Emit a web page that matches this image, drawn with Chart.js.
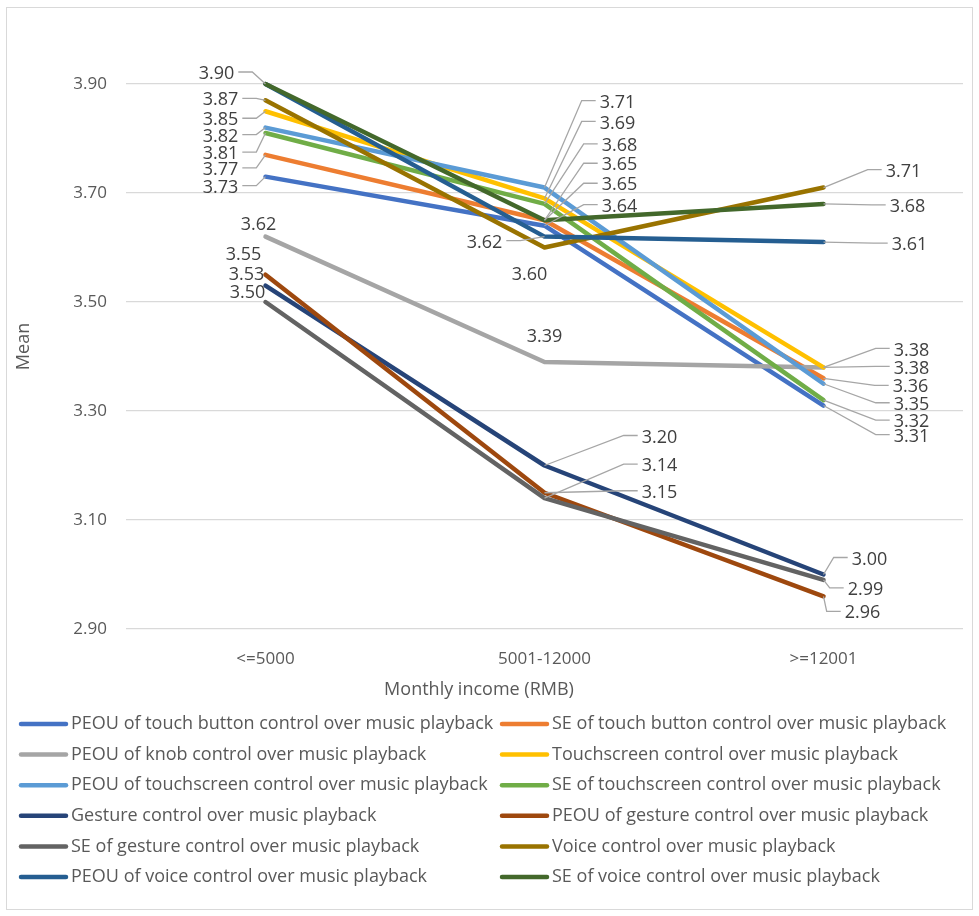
<!DOCTYPE html>
<html>
<head>
<meta charset="utf-8">
<title>Mean by monthly income</title>
<script src="https://cdn.jsdelivr.net/npm/chart.js@4.4.1/dist/chart.umd.min.js"></script>
<style>
  html, body { margin: 0; padding: 0; background: #ffffff; }
  #wrap { width: 979px; height: 916px; position: relative; }
</style>
</head>
<body>
<div id="wrap"><canvas id="chart" width="979" height="916"></canvas></div>
<script>
// Income groups on the x axis
const categories = ['<=5000', '5001-12000', '>=12001'];
// Y axis tick values
const yTicks = [2.90, 3.10, 3.30, 3.50, 3.70, 3.90];

// Series names (legend order)
const seriesNames = [
  'PEOU of touch button control over music playback',
  'SE of touch button control over music playback',
  'PEOU of knob control over music playback',
  'Touchscreen control over music playback',
  'PEOU of touchscreen control over music playback',
  'SE of touchscreen control over music playback',
  'Gesture control over music playback',
  'PEOU of gesture control over music playback',
  'SE of gesture control over music playback',
  'Voice control over music playback',
  'PEOU of voice control over music playback',
  'SE of voice control over music playback'
];

// Mean values per income group
const peouTouchButton = [3.73, 3.64, 3.31];
const seTouchButton   = [3.77, 3.65, 3.36];
const peouKnob        = [3.62, 3.39, 3.38];
const touchscreen     = [3.85, 3.69, 3.38];
const peouTouchscreen = [3.82, 3.71, 3.35];
const seTouchscreen   = [3.81, 3.68, 3.32];
const gesture         = [3.53, 3.20, 3.00];
const peouGesture     = [3.55, 3.15, 2.96];
const seGesture       = [3.50, 3.14, 2.99];
const voice           = [3.87, 3.60, 3.71];
const peouVoice       = [3.90, 3.62, 3.61];
const seVoice         = [3.90, 3.65, 3.68];

const seriesValues = [
  peouTouchButton, seTouchButton, peouKnob, touchscreen, peouTouchscreen, seTouchscreen,
  gesture, peouGesture, seGesture, voice, peouVoice, seVoice
];

const seriesColors = [
  '#4472C4', '#ED7D31', '#A5A5A5', '#FFC000', '#5B9BD5', '#70AD47',
  '#264478', '#9E480E', '#636363', '#997300', '#255E91', '#43682B'
];

// Data label placement: [dx, dy, leader] offset of the label centre from its point, in px.
// null = no label drawn for that point.
const labelPlacement = [
  [[-45, 11, true], [75, -19, true], [88, 31, true]],      // PEOU touch button
  [[-45, 15, true], [75, -35, true], [87, 9, true]],       // SE touch button
  [[-7, -12, false], [0, -25, false], [88, 1, true]],      // PEOU knob
  [[-45, 9, true], [73, -75, true], [88, -17, true]],      // Touchscreen
  [[-45, 9, true], [73, -85, true], [88, 21, true]],       // PEOU touchscreen
  [[-45, 21, true], [75, -58, true], [88, 22, true]],      // SE touchscreen
  [[-19, -11, false], [115, -28, true], [46, -15, true]],  // Gesture
  [[-22, -20, false], [115, 0, true], [39, 17, true]],     // PEOU gesture
  [[-18, -9, false], [115, -32, true], [42, 10, true]],    // SE gesture
  [[-45, 0, true], [-15, 27, false], [80, -16, true]],     // Voice
  [null, [-60, 6, true], [86, 3, true]],                   // PEOU voice
  [[-49, -10, true], [75, -55, true], [84, 3, true]]       // SE voice
];

const FONT = '"Open Sans", "Noto Sans", "DejaVu Sans", sans-serif';
const TEXT_GREY = '#595959';

const datasets = seriesNames.map((name, i) => ({
  label: name,
  data: seriesValues[i],
  borderColor: seriesColors[i],
  backgroundColor: seriesColors[i],
  borderWidth: 4.5,
  pointRadius: 0,
  pointHoverRadius: 0,
  tension: 0,
  fill: false,
  clip: 10,
  borderCapStyle: 'round',
  borderJoinStyle: 'round',
  // later series are painted over earlier ones
  order: seriesNames.length - i
}));

// White background and thin frame around the whole chart
const framePlugin = {
  id: 'frame',
  beforeDraw(chart) {
    const ctx = chart.ctx;
    ctx.save();
    ctx.fillStyle = '#ffffff';
    ctx.fillRect(0, 0, chart.width, chart.height);
    ctx.strokeStyle = '#D9D9D9';
    ctx.lineWidth = 1;
    ctx.strokeRect(6.5, 7.5, chart.width - 13, chart.height - 14);
    ctx.restore();
  }
};

// Axis titles
const axisTitlePlugin = {
  id: 'axisTitles',
  afterDraw(chart) {
    const ctx = chart.ctx;
    const area = chart.chartArea;
    ctx.save();
    ctx.fillStyle = TEXT_GREY;
    ctx.font = '18px ' + FONT;
    ctx.textAlign = 'center';
    ctx.textBaseline = 'middle';
    ctx.fillText('Monthly income (RMB)', 479, area.bottom + 61);
    ctx.translate(24, (area.top + area.bottom) / 2 - 10);
    ctx.rotate(-Math.PI / 2);
    ctx.fillText('Mean', 0, 0);
    ctx.restore();
  }
};

// Value labels with leader lines
const valueLabelPlugin = {
  id: 'valueLabels',
  afterDatasetsDraw(chart) {
    const ctx = chart.ctx;
    ctx.save();
    ctx.font = '18px ' + FONT;
    ctx.textBaseline = 'middle';
    ctx.textAlign = 'center';
    chart.data.datasets.forEach((ds, i) => {
      const meta = chart.getDatasetMeta(i);
      meta.data.forEach((pt, j) => {
        const place = labelPlacement[i][j];
        if (!place) return;
        const [dx, dy, leader] = place;
        const text = ds.data[j].toFixed(2);
        const lx = pt.x + dx, ly = pt.y + dy;
        const w = ctx.measureText(text).width;
        if (leader) {
          const side = dx > 0 ? -1 : 1;
          const edgeX = lx + side * (w / 2 + 4);
          const stubX = edgeX + side * 14;
          ctx.strokeStyle = '#A6A6A6';
          ctx.lineWidth = 1.3;
          ctx.beginPath();
          ctx.moveTo(edgeX, ly - 2);
          ctx.lineTo(stubX, ly - 2);
          ctx.lineTo(pt.x, pt.y);
          ctx.stroke();
        }
        ctx.fillStyle = '#404040';
        ctx.fillText(text, lx, ly);
      });
    });
    ctx.restore();
  }
};

// Two-column legend under the plot
const legendPlugin = {
  id: 'twoColLegend',
  afterDraw(chart) {
    const ctx = chart.ctx;
    ctx.save();
    ctx.font = '18px ' + FONT;
    ctx.textBaseline = 'middle';
    ctx.textAlign = 'left';
    const colX = [19, 500];
    const rowY0 = 724, rowGap = 30.6;
    chart.data.datasets.forEach((ds, i) => {
      const col = i % 2, row = Math.floor(i / 2);
      const x = colX[col], y = rowY0 + row * rowGap;
      ctx.strokeStyle = ds.borderColor;
      ctx.lineWidth = 4.5;
      ctx.lineCap = 'round';
      ctx.beginPath();
      ctx.moveTo(x + 2, y);
      ctx.lineTo(x + 47, y);
      ctx.stroke();
      ctx.fillStyle = TEXT_GREY;
      ctx.fillText(ds.label, x + 52, y);
    });
    ctx.restore();
  }
};

new Chart(document.getElementById('chart'), {
  type: 'line',
  data: { labels: categories, datasets },
  options: {
    responsive: false,
    animation: false,
    events: [],
    layout: { padding: { left: 0, right: 16, top: 84, bottom: 0 } },
    plugins: { legend: { display: false }, tooltip: { enabled: false } },
    scales: {
      x: {
        type: 'category',
        offset: true,
        grid: { display: false, drawTicks: false },
        border: { display: false },
        ticks: { color: TEXT_GREY, font: { family: FONT, size: 17 }, padding: 20 },
        afterFit(scale) { scale.height = 287; }
      },
      y: {
        min: 2.9,
        max: 3.9,
        grid: { color: '#D9D9D9', lineWidth: 1.3, drawTicks: false },
        border: { display: false },
        afterBuildTicks(scale) { scale.ticks = yTicks.map(v => ({ value: v })); },
        ticks: {
          color: TEXT_GREY,
          font: { family: FONT, size: 17 },
          padding: 19,
          callback: v => Number(v).toFixed(2)
        },
        afterFit(scale) { scale.width = 126; }
      }
    }
  },
  plugins: [framePlugin, valueLabelPlugin, axisTitlePlugin, legendPlugin]
});
</script>
</body>
</html>
